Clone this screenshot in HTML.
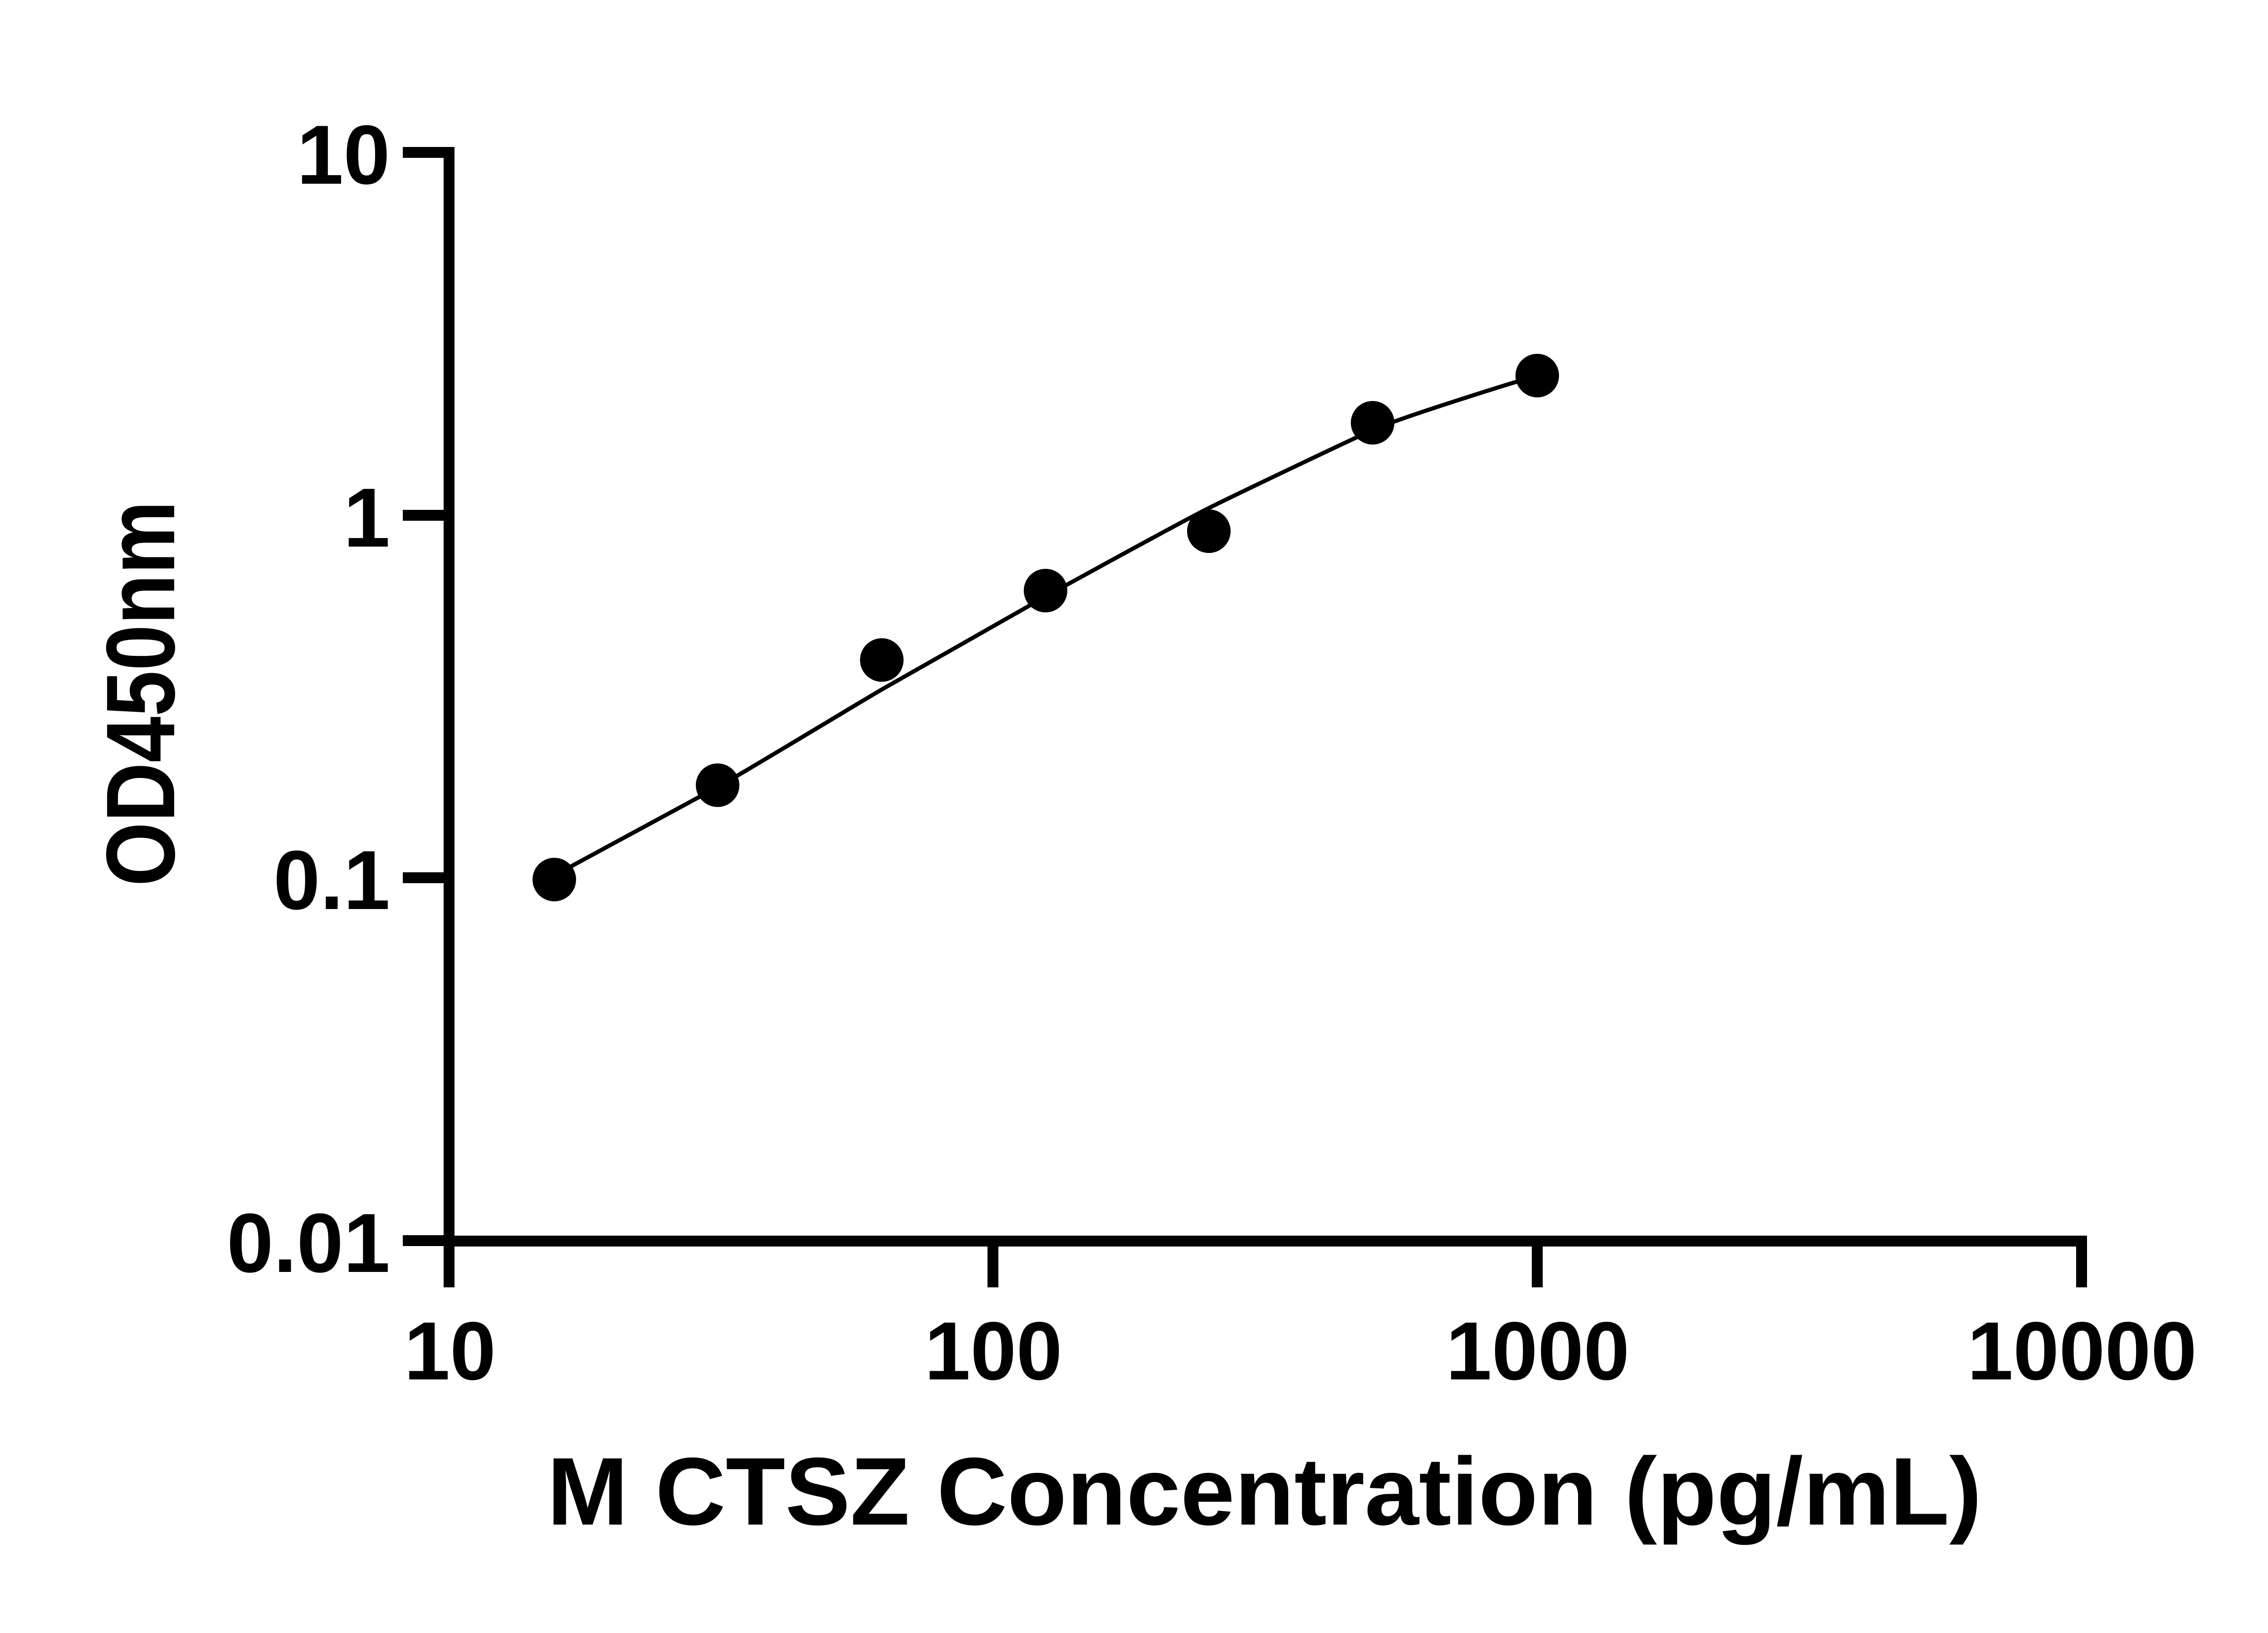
<!DOCTYPE html>
<html><head><meta charset="utf-8"><style>html,body{margin:0;padding:0;background:#fff}svg{display:block}</style></head>
<body>
<svg width="5142" height="3600" viewBox="0 0 5142 3600" xmlns="http://www.w3.org/2000/svg">
<g stroke="#000" fill="none">
<line x1="990" y1="324" x2="990" y2="2838" stroke-width="24"/>
<line x1="978" y1="2736" x2="4601" y2="2736" stroke-width="24"/>
<g stroke-width="24">
<line x1="888" y1="336" x2="990" y2="336"/>
<line x1="888" y1="1136" x2="990" y2="1136"/>
<line x1="888" y1="1935" x2="990" y2="1935"/>
<line x1="888" y1="2735" x2="990" y2="2735"/>
<line x1="2189" y1="2736" x2="2189" y2="2838"/>
<line x1="3389" y1="2736" x2="3389" y2="2838"/>
<line x1="4589" y1="2736" x2="4589" y2="2838"/>
</g>
<path d="M1222,1930 C1282,1897 1522,1768 1582,1735 C1642,1702 1884,1555 1944,1520 C2004,1485 2245,1350 2305,1315 C2365,1282 2605,1150 2665,1120 C2725,1090 2966,975 3026,948 C3086,921 3330,845 3389,828" stroke-width="9"/>
</g>
<g fill="#000">
<circle cx="1222" cy="1939" r="48"/>
<circle cx="1582" cy="1731" r="48"/>
<circle cx="1944" cy="1455" r="48"/>
<circle cx="2305" cy="1302" r="48"/>
<circle cx="2665" cy="1171" r="48"/>
<circle cx="3026" cy="932" r="48"/>
<circle cx="3389" cy="828" r="48"/>
</g>
<g font-family="Liberation Sans, sans-serif" font-weight="bold" fill="#000">
<g font-size="185" text-anchor="end">
<text x="860" y="405">10</text>
<text x="860" y="1205">1</text>
<text x="860" y="2004">0.1</text>
<text x="860" y="2804">0.01</text>
</g>
<g font-size="182" text-anchor="middle">
<text x="992" y="3041">10</text>
<text x="2190" y="3041">100</text>
<text x="3390" y="3041">1000</text>
<text x="4590" y="3041">10000</text>
</g>
<text x="1206" y="3361" font-size="212" textLength="3163" lengthAdjust="spacingAndGlyphs">M CTSZ Concentration (pg/mL)</text>
<text transform="translate(384,1954) rotate(-90)" x="0" y="0" font-size="215" textLength="850" lengthAdjust="spacingAndGlyphs">OD450nm</text>
</g>
</svg>
</body></html>
